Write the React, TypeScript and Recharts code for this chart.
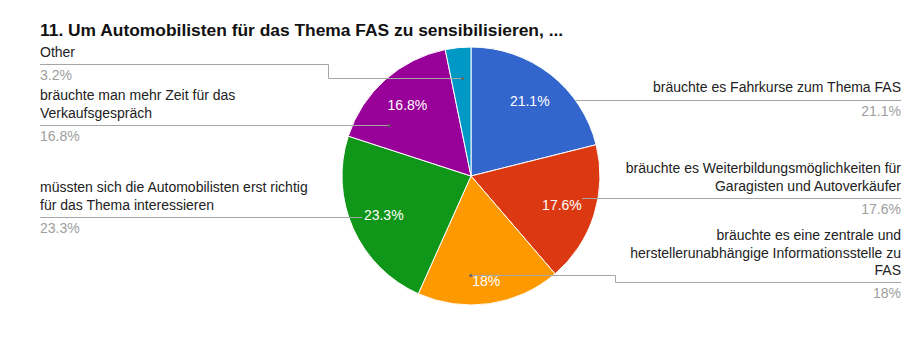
import React from 'react';
import { PieChart, Pie, Cell } from 'recharts';

const categories: string[][] = [
  ['bräuchte es Fahrkurse zum Thema FAS'],
  ['bräuchte es Weiterbildungsmöglichkeiten für', 'Garagisten und Autoverkäufer'],
  ['bräuchte es eine zentrale und', 'herstellerunabhängige Informationsstelle zu', 'FAS'],
  ['müssten sich die Automobilisten erst richtig', 'für das Thema interessieren'],
  ['bräuchte man mehr Zeit für das', 'Verkaufsgespräch'],
  ['Other'],
];
const shares = [21.1, 17.6, 18, 23.3, 16.8, 3.2];
const sliceColors = ['#3366cc', '#dc3912', '#ff9900', '#109618', '#990099', '#0099c6'];

// where each callout sits; t/k pick the anchor inside the slice
const labelLayout = [
  { side: 'right', top: 92, lineY: 100, t: 0.71, k: 1.0, pctR: 0.74 },
  { side: 'right', top: 173, lineY: 198, t: 0.41, k: 0.88, pctR: 0.74 },
  { side: 'right', top: 240, lineY: 282, elbowX: 615, t: 0.63, k: 0.77, pctR: 0.82 },
  { side: 'left', top: 192, lineY: 217, t: 0.54, k: 0.9, pctR: 0.74 },
  { side: 'left', top: 100, lineY: 125, t: 0.23, k: 0.75, pctR: 0.74 },
  { side: 'left', top: 57, lineY: 64, elbowX: 328, t: 0.57, k: 0.76, pctR: 0.74 },
];

const data = shares.map((v, i) => ({ name: categories[i].join(' '), value: v }));

const FONT = '"Liberation Sans", Arial, sans-serif';
const RAD = Math.PI / 180;
const polar = (cx: number, cy: number, r: number, deg: number) => ({
  x: cx + Math.cos(-deg * RAD) * r,
  y: cy + Math.sin(-deg * RAD) * r,
});

const renderLabel = (props: any) => {
  const { cx, cy, outerRadius, startAngle, endAngle, index } = props;
  const lay = labelLayout[index];
  const mid = (startAngle + endAngle) / 2;
  const pctPos = polar(cx, cy, outerRadius * lay.pctR, mid);
  const anchor = polar(cx, cy, outerRadius * lay.k, startAngle + (endAngle - startAngle) * lay.t);
  const left = lay.side === 'left';
  const edgeX = left ? 40 : 901;
  const ly = lay.lineY + 0.5;
  let d: string;
  if (lay.elbowX !== undefined) {
    const ex = lay.elbowX + 0.5;
    d = `M${edgeX},${ly} H${ex} V${Math.round(anchor.y) + 0.5} H${anchor.x}`;
  } else {
    d = `M${edgeX},${ly} H${anchor.x}`;
  }
  const lines = categories[index];
  return (
    <g>
      <path d={d} stroke="#a6a6a6" strokeWidth={1} fill="none" />
      {lay.elbowX !== undefined || index === 4 ? (
        <circle cx={anchor.x} cy={lay.elbowX !== undefined ? Math.round(anchor.y) + 0.5 : ly} r={1.5} fill="#666" />
      ) : null}
      {shares[index] >= 5 ? (
        <text
          x={pctPos.x}
          y={pctPos.y}
          textAnchor="middle"
          dominantBaseline="central"
          fill="#fff"
          fontSize={14}
          fontFamily={FONT}
        >
          {`${shares[index]}%`}
        </text>
      ) : null}
      <text x={edgeX} y={lay.top} textAnchor={left ? 'start' : 'end'} fill="#222" fontSize={14} fontFamily={FONT}>
        {lines.map((ln, j) => (
          <tspan key={j} x={edgeX} y={lay.top + j * 17.5}>
            {ln}
          </tspan>
        ))}
      </text>
      <text x={edgeX} y={lay.lineY + 16} textAnchor={left ? 'start' : 'end'} fill="#9e9e9e" fontSize={14} fontFamily={FONT}>
        {`${shares[index]}%`}
      </text>
    </g>
  );
};

export default function App() {
  return (
    <div style={{ position: 'absolute', left: 0, top: 0, width: 920, height: 350, background: '#fff' }}>
      <div
        style={{
          position: 'absolute',
          left: 40,
          top: 20,
          fontFamily: FONT,
          fontWeight: 700,
          fontSize: 17.4,
          color: '#111',
          lineHeight: '20px',
          whiteSpace: 'nowrap',
        }}
      >
        11. Um Automobilisten für das Thema FAS zu sensibilisieren, ...
      </div>
      <PieChart width={920} height={350} margin={{ top: 0, right: 0, bottom: 0, left: 0 }}>
        <Pie
          data={data}
          dataKey="value"
          nameKey="name"
          cx={471}
          cy={176}
          outerRadius={129}
          startAngle={90}
          endAngle={-270}
          stroke="#fff"
          strokeWidth={1}
          label={renderLabel}
          labelLine={false}
          isAnimationActive={false}
        >
          {data.map((d, i) => (
            <Cell key={d.name} fill={sliceColors[i]} />
          ))}
        </Pie>
      </PieChart>
    </div>
  );
}
